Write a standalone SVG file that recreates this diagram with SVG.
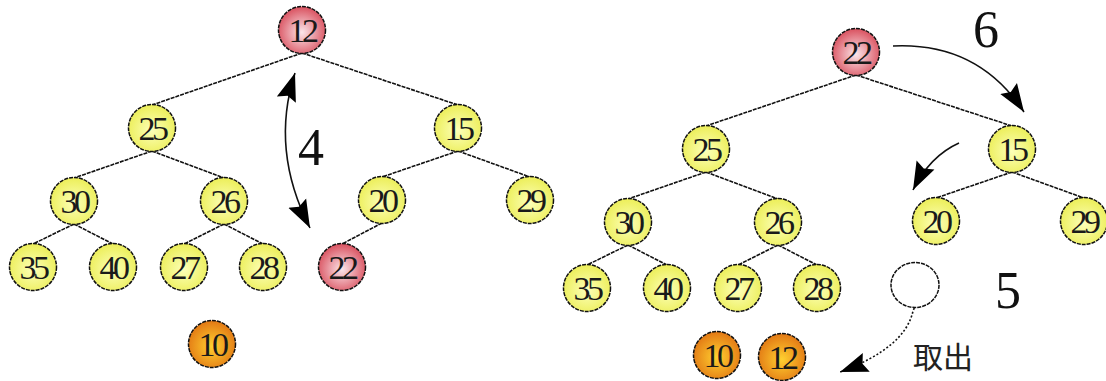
<svg xmlns="http://www.w3.org/2000/svg" width="1106" height="381" viewBox="0 0 1106 381">
<style>
.e{stroke:#111;stroke-width:1.6;stroke-dasharray:4 1;fill:none}
.n circle{stroke:#111;stroke-width:1.5;stroke-dasharray:4 1}
.y{fill:url(#gy)}
.r{fill:url(#gr)}
.o{fill:url(#go)}
.n text{font-family:"Liberation Serif",serif;font-size:34px;letter-spacing:-3.5px;fill:#1a1a1a;text-anchor:middle}
.lbl{font-family:"Liberation Serif",serif;font-size:52px;fill:#111}
.cjk{font-family:"Noto Sans CJK TC","Noto Sans CJK SC",sans-serif;font-size:30px;fill:#222}
.a{stroke:#111;stroke-width:1.6;fill:none}
</style>
<defs>
<radialGradient id="gy" cx="0.5" cy="0.55" r="0.55"><stop offset="0" stop-color="#fcffb8"/><stop offset="1" stop-color="#ecee58"/></radialGradient>
<radialGradient id="gr" cx="0.5" cy="0.55" r="0.55"><stop offset="0" stop-color="#fbe6ea"/><stop offset="1" stop-color="#d9505e"/></radialGradient>
<radialGradient id="go" cx="0.5" cy="0.55" r="0.55"><stop offset="0" stop-color="#ffd030"/><stop offset="1" stop-color="#e27814"/></radialGradient>
<marker id="ah" markerUnits="userSpaceOnUse" markerWidth="30" markerHeight="24" viewBox="0 0 30 24" refX="28" refY="12" orient="auto-start-reverse"><path d="M0,2 L28,12 L0,22 L4,12 Z" fill="#000"/></marker>
</defs>
<g id="connectors">
<line class="e" x1="302" y1="53" x2="152" y2="105"/>
<line class="e" x1="302" y1="53" x2="458" y2="105"/>
<line class="e" x1="152" y1="151" x2="74" y2="178"/>
<line class="e" x1="152" y1="151" x2="224" y2="178"/>
<line class="e" x1="458" y1="151" x2="382" y2="177"/>
<line class="e" x1="458" y1="151" x2="530" y2="177"/>
<line class="e" x1="74" y1="224" x2="33" y2="244"/>
<line class="e" x1="74" y1="224" x2="113" y2="244"/>
<line class="e" x1="224" y1="224" x2="184" y2="244"/>
<line class="e" x1="224" y1="224" x2="263" y2="244"/>
<line class="e" x1="382" y1="223" x2="342" y2="244"/>
<line class="e" x1="856" y1="75" x2="706" y2="126"/>
<line class="e" x1="856" y1="75" x2="1012" y2="126"/>
<line class="e" x1="706" y1="172" x2="628" y2="199"/>
<line class="e" x1="706" y1="172" x2="778" y2="199"/>
<line class="e" x1="1012" y1="172" x2="936" y2="198"/>
<line class="e" x1="1012" y1="172" x2="1084" y2="198"/>
<line class="e" x1="628" y1="245" x2="587" y2="265"/>
<line class="e" x1="628" y1="245" x2="667" y2="265"/>
<line class="e" x1="778" y1="245" x2="738" y2="265"/>
<line class="e" x1="778" y1="245" x2="817" y2="265"/>
<path class="a" d="M295,73 Q270,150 310,228" marker-start="url(#ah)" marker-end="url(#ah)"/>
<path class="a" d="M893,46 Q978,42 1024,112" marker-end="url(#ah)"/>
<path class="a" d="M959,143 Q930,156 913,190" marker-end="url(#ah)"/>
<path class="a" stroke-dasharray="2 2" d="M919,297 L913,311 Q905,348 840,372" marker-end="url(#ah)"/>
</g>
<g id="n12" class="n"><circle class="r" cx="302" cy="30" r="23.5"/><text x="302" y="42">12</text></g>
<g id="n25" class="n"><circle class="y" cx="152" cy="128" r="23.5"/><text x="152" y="140">25</text></g>
<g id="n15" class="n"><circle class="y" cx="458" cy="128" r="23.5"/><text x="458" y="140">15</text></g>
<g id="n30" class="n"><circle class="y" cx="74" cy="201" r="23.5"/><text x="74" y="213">30</text></g>
<g id="n26" class="n"><circle class="y" cx="224" cy="201" r="23.5"/><text x="224" y="213">26</text></g>
<g id="n20" class="n"><circle class="y" cx="382" cy="200" r="23.5"/><text x="382" y="212">20</text></g>
<g id="n29" class="n"><circle class="y" cx="530" cy="200" r="23.5"/><text x="530" y="212">29</text></g>
<g id="n35" class="n"><circle class="y" cx="33" cy="267" r="23.5"/><text x="33" y="279">35</text></g>
<g id="n40" class="n"><circle class="y" cx="113" cy="267" r="23.5"/><text x="113" y="279">40</text></g>
<g id="n27" class="n"><circle class="y" cx="184" cy="267" r="23.5"/><text x="184" y="279">27</text></g>
<g id="n28" class="n"><circle class="y" cx="263" cy="267" r="23.5"/><text x="263" y="279">28</text></g>
<g id="n22" class="n"><circle class="r" cx="342" cy="267" r="23.5"/><text x="342" y="279">22</text></g>
<g id="n10" class="n"><circle class="o" cx="212" cy="344" r="23.5"/><text x="212" y="356">10</text></g>
<g id="m22" class="n"><circle class="r" cx="856" cy="52" r="23.5"/><text x="856" y="64">22</text></g>
<g id="m25" class="n"><circle class="y" cx="706" cy="149" r="23.5"/><text x="706" y="161">25</text></g>
<g id="m15" class="n"><circle class="y" cx="1012" cy="149" r="23.5"/><text x="1012" y="161">15</text></g>
<g id="m30" class="n"><circle class="y" cx="628" cy="222" r="23.5"/><text x="628" y="234">30</text></g>
<g id="m26" class="n"><circle class="y" cx="778" cy="222" r="23.5"/><text x="778" y="234">26</text></g>
<g id="m20" class="n"><circle class="y" cx="936" cy="221" r="23.5"/><text x="936" y="233">20</text></g>
<g id="m29" class="n"><circle class="y" cx="1084" cy="221" r="23.5"/><text x="1084" y="233">29</text></g>
<g id="m35" class="n"><circle class="y" cx="587" cy="288" r="23.5"/><text x="587" y="300">35</text></g>
<g id="m40" class="n"><circle class="y" cx="667" cy="288" r="23.5"/><text x="667" y="300">40</text></g>
<g id="m27" class="n"><circle class="y" cx="738" cy="288" r="23.5"/><text x="738" y="300">27</text></g>
<g id="m28" class="n"><circle class="y" cx="817" cy="288" r="23.5"/><text x="817" y="300">28</text></g>
<g id="mEmpty" class="n"><ellipse cx="915" cy="285" rx="24" ry="22.5" fill="#fff" stroke="#111" stroke-width="1.5" stroke-dasharray="4 1"/></g>
<g id="m10" class="n"><circle class="o" cx="717" cy="355" r="23.5"/><text x="717" y="367">10</text></g>
<g id="m12" class="n"><circle class="o" cx="782" cy="357" r="23.5"/><text x="782" y="369">12</text></g>
<g id="labels">
<text class="lbl" x="298" y="165">4</text>
<text class="lbl" x="973" y="47">6</text>
<text class="lbl" x="995" y="308">5</text>
<text class="cjk" x="913" y="368">取出</text>
</g>
</svg>
